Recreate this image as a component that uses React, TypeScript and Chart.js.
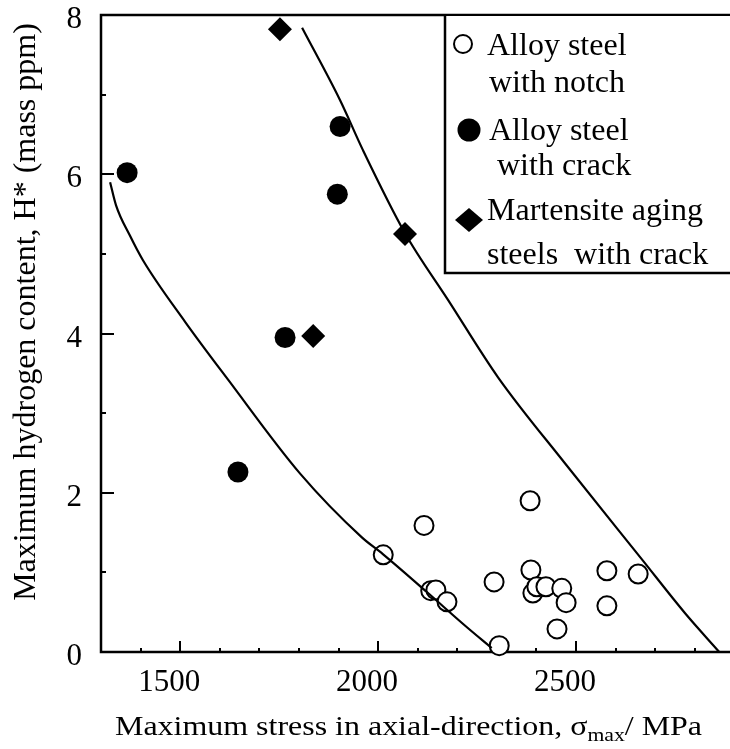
import React, { useEffect, useRef } from 'react';
import { Chart, registerables } from 'chart.js';

Chart.register(...registerables);

// Alloy steel with notch (open circles)
const notchStress = [2384, 2116, 2013, 2293, 2386, 2578, 2657, 2133, 2146, 2174, 2391, 2401, 2424, 2464, 2475, 2578, 2452, 2306];
const notchH = [1.9, 1.59, 1.22, 0.88, 1.03, 1.02, 0.98, 0.77, 0.78, 0.63, 0.74, 0.82, 0.82, 0.8, 0.62, 0.58, 0.29, 0.08];

// Alloy steel with crack (filled circles)
const crackStress = [1366, 1904, 1897, 1765, 1646];
const crackH = [6.02, 6.6, 5.75, 3.95, 2.26];

// Martensite aging steels with crack (diamonds)
const agingStress = [1752, 1836, 2068];
const agingH = [7.82, 3.97, 5.25];

// Boundary curves
const upperStress = [1808, 1904, 1962, 2068, 2177, 2303, 2472, 2667, 2775, 2862];
const upperH = [7.84, 6.93, 6.3, 5.26, 4.42, 3.45, 2.37, 1.16, 0.49, 0];
const lowerStress = [1323, 1338, 1373, 1406, 1512, 1621, 1803, 1959, 2012, 2124, 2220, 2287];
const lowerH = [5.9, 5.61, 5.23, 4.92, 4.15, 3.42, 2.24, 1.44, 1.23, 0.75, 0.33, 0.05];

const xTickValues = [1500, 2000, 2500];
const yTickValues = [0, 2, 4, 6, 8];
const xMinor = [1400, 1500, 1600, 1700, 1800, 1900, 2000, 2100, 2200, 2300, 2400, 2500, 2600, 2700, 2800];
const yMinor = [0, 1, 2, 3, 4, 5, 6, 7, 8];

const legendLines = [
  ['Alloy steel', 'with notch'],
  ['Alloy steel', ' with crack'],
  ['Martensite aging', 'steels  with crack'],
];

const SERIF = '"Liberation Serif", "Times New Roman", serif';

const zip = (xs: number[], ys: number[]) => xs.map((x, i) => ({ x, y: ys[i] }));

function openCircle(ctx: CanvasRenderingContext2D, x: number, y: number, r: number) {
  ctx.beginPath();
  ctx.arc(x, y, r, 0, Math.PI * 2);
  ctx.fillStyle = '#fff';
  ctx.fill();
  ctx.lineWidth = 2;
  ctx.strokeStyle = '#000';
  ctx.stroke();
}
function filledCircle(ctx: CanvasRenderingContext2D, x: number, y: number, r: number) {
  ctx.beginPath();
  ctx.arc(x, y, r, 0, Math.PI * 2);
  ctx.fillStyle = '#000';
  ctx.fill();
}
function diamond(ctx: CanvasRenderingContext2D, x: number, y: number, hw: number, hh: number) {
  ctx.beginPath();
  ctx.moveTo(x - hw, y);
  ctx.lineTo(x, y - hh);
  ctx.lineTo(x + hw, y);
  ctx.lineTo(x, y + hh);
  ctx.closePath();
  ctx.fillStyle = '#000';
  ctx.fill();
}

const framePlugin = {
  id: 'frameTicks',
  beforeDatasetsDraw(chart: any) {
    const { ctx, chartArea: a, scales } = chart;
    const xs = scales.x;
    const ys = scales.y;
    ctx.save();
    ctx.strokeStyle = '#000';
    ctx.lineWidth = 2.5;
    ctx.beginPath();
    ctx.moveTo(a.right, a.top);
    ctx.lineTo(a.left, a.top);
    ctx.lineTo(a.left, a.bottom);
    ctx.lineTo(a.right, a.bottom);
    ctx.stroke();
    ctx.lineWidth = 2;
    ctx.beginPath();
    xMinor.forEach((v) => {
      const px = Math.round(xs.getPixelForValue(v));
      const len = v % 500 === 0 ? 11 : 4;
      ctx.moveTo(px, a.bottom);
      ctx.lineTo(px, a.bottom - len);
    });
    yMinor.forEach((v) => {
      const py = Math.round(ys.getPixelForValue(v));
      const len = v % 2 === 0 ? 13 : 5;
      ctx.moveTo(a.left, py);
      ctx.lineTo(a.left + len, py);
    });
    ctx.stroke();
    ctx.restore();
  },
};

const annotatePlugin = {
  id: 'titlesLegend',
  afterDraw(chart: any) {
    const { ctx, chartArea: a } = chart;
    ctx.save();
    ctx.fillStyle = '#000';

    // y-axis title
    ctx.save();
    ctx.translate(35, 312);
    ctx.rotate(-Math.PI / 2);
    ctx.font = `32px ${SERIF}`;
    ctx.textAlign = 'center';
    ctx.textBaseline = 'alphabetic';
    ctx.fillText('Maximum hydrogen content, H* (mass ppm)', 0, 0);
    ctx.restore();

    // x-axis title with subscript
    const main = 'Maximum stress in axial-direction, \u03C3';
    const sub = 'max';
    const tail = '/ MPa';
    ctx.textBaseline = 'alphabetic';
    ctx.textAlign = 'left';
    ctx.font = `28px ${SERIF}`;
    const wMain = ctx.measureText(main).width;
    const wTail = ctx.measureText(tail).width;
    ctx.font = `19px ${SERIF}`;
    const wSub = ctx.measureText(sub).width;
    const total = wMain + wSub + wTail;
    const sx = 587 / total;
    ctx.save();
    ctx.translate(115, 735);
    ctx.scale(sx, 1);
    ctx.font = `28px ${SERIF}`;
    ctx.fillText(main, 0, 0);
    ctx.font = `19px ${SERIF}`;
    ctx.fillText(sub, wMain, 6);
    ctx.font = `28px ${SERIF}`;
    ctx.fillText(tail, wMain + wSub, 0);
    ctx.restore();

    // legend box
    const bx = 445;
    const by = a.top;
    const bb = 273;
    ctx.fillStyle = '#fff';
    ctx.fillRect(bx, by + 1, chart.width - bx, bb - by - 1);
    ctx.strokeStyle = '#000';
    ctx.lineWidth = 2.5;
    ctx.beginPath();
    ctx.moveTo(bx, by);
    ctx.lineTo(bx, bb);
    ctx.lineTo(chart.width, bb);
    ctx.stroke();

    openCircle(ctx, 463, 44, 9);
    filledCircle(ctx, 469, 130, 11.5);
    diamond(ctx, 469, 220, 14, 12);

    ctx.fillStyle = '#000';
    ctx.font = `32px ${SERIF}`;
    ctx.textAlign = 'left';
    ctx.fillText(legendLines[0][0], 487, 55);
    ctx.fillText(legendLines[0][1], 489, 92);
    ctx.fillText(legendLines[1][0], 489, 140);
    ctx.fillText(legendLines[1][1], 489, 175);
    ctx.fillText(legendLines[2][0], 487, 220);
    ctx.fillText(legendLines[2][1], 487, 264);
    ctx.restore();
  },
};

export default function App() {
  const ref = useRef<HTMLCanvasElement | null>(null);

  useEffect(() => {
    if (!ref.current) return;
    const tickFont = { family: SERIF, size: 31 };
    const chart = new Chart(ref.current, {
      type: 'scatter',
      data: {
        datasets: [
          {
            label: 'upper',
            data: zip(upperStress, upperH),
            showLine: true,
            borderColor: '#000',
            borderWidth: 2.2,
            pointRadius: 0,
            cubicInterpolationMode: 'monotone',
            fill: false,
            order: 0,
          },
          {
            label: 'lower',
            data: zip(lowerStress, lowerH),
            showLine: true,
            borderColor: '#000',
            borderWidth: 2.2,
            pointRadius: 0,
            cubicInterpolationMode: 'monotone',
            fill: false,
            order: 0,
          },
          {
            label: 'Alloy steel with notch',
            data: zip(notchStress, notchH),
            pointStyle: 'circle',
            pointRadius: 9.5,
            pointBorderWidth: 2,
            pointBackgroundColor: '#fff',
            pointBorderColor: '#000',
            clip: false,
            order: 1,
          },
          {
            label: 'Alloy steel with crack',
            data: zip(crackStress, crackH),
            pointStyle: 'circle',
            pointRadius: 10.5,
            pointBorderWidth: 0,
            pointBackgroundColor: '#000',
            pointBorderColor: '#000',
            clip: false,
            order: 1,
          },
          {
            label: 'Martensite aging steels with crack',
            data: zip(agingStress, agingH),
            pointStyle: 'rectRot',
            pointRadius: 12,
            pointBorderWidth: 0,
            pointBackgroundColor: '#000',
            pointBorderColor: '#000',
            clip: false,
            order: 1,
          },
        ],
      },
      options: {
        responsive: false,
        animation: false,
        events: [],
        layout: { padding: { left: 0, top: 15, right: 0, bottom: 0 }, autoPadding: false },
        plugins: { legend: { display: false }, tooltip: { enabled: false } },
        scales: {
          x: {
            type: 'linear',
            min: 1300,
            max: 2889,
            afterFit: (s: any) => {
              s.height = 97;
              s.paddingLeft = 0;
              s.paddingRight = 0;
            },
            afterBuildTicks: (s: any) => {
              s.ticks = xTickValues.map((v) => ({ value: v }));
            },
            grid: { display: false, drawTicks: false },
            border: { display: false },
            ticks: {
              font: tickFont,
              color: '#000',
              padding: 12,
              labelOffset: -11,
              maxRotation: 0,
              autoSkip: false,
              callback: (v: any) => String(v),
            },
          },
          y: {
            type: 'linear',
            min: 0,
            max: 8,
            afterFit: (s: any) => {
              s.width = 101;
              s.paddingTop = 0;
              s.paddingBottom = 0;
            },
            afterBuildTicks: (s: any) => {
              s.ticks = yTickValues.map((v) => ({ value: v }));
            },
            grid: { display: false, drawTicks: false },
            border: { display: false },
            ticks: {
              font: tickFont,
              color: '#000',
              padding: 19,
              labelOffset: 5,
              autoSkip: false,
              callback: (v: any) => String(v),
            },
          },
        },
      },
      plugins: [framePlugin, annotatePlugin],
    } as any);
    return () => chart.destroy();
  }, []);

  return (
    <div style={{ position: 'absolute', left: 0, top: 0, width: 730, height: 749, background: '#fff' }}>
      <canvas ref={ref} width={730} height={749} style={{ display: 'block', width: 730, height: 749 }} />
    </div>
  );
}
